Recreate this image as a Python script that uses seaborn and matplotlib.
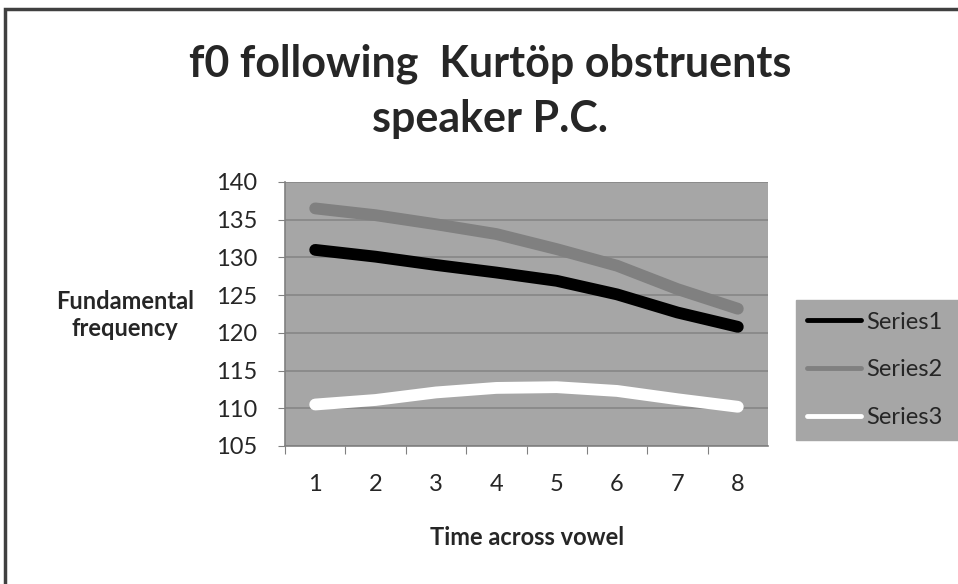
import seaborn as sns
import matplotlib.pyplot as plt
import pandas as pd
from matplotlib.patches import Rectangle

# values
time_points = [1, 2, 3, 4, 5, 6, 7, 8]
series1 = [131.0, 130.1, 129.0, 128.0, 126.9, 125.1, 122.7, 120.8]
series2 = [136.5, 135.6, 134.4, 133.1, 131.1, 128.9, 125.8, 123.2]
series3 = [110.5, 111.1, 112.1, 112.7, 112.8, 112.3, 111.2, 110.2]
series_names = ['Series1', 'Series2', 'Series3']
y_ticks = [105, 110, 115, 120, 125, 130, 135, 140]

df = pd.DataFrame({
    'time': time_points * 3,
    'f0': series1 + series2 + series3,
    'series': [n for n in series_names for _ in time_points],
})

sns.set_style('white')
plt.rcParams['font.family'] = ['Lato', 'DejaVu Sans']

fig = plt.figure(figsize=(9.58, 5.84), dpi=100)
W, H = 958, 584
ax = fig.add_axes([285 / W, 1 - 446 / H, (768 - 285) / W, (446 - 182) / H])
ax.set_facecolor('#a6a6a6')

sns.lineplot(data=df, x='time', y='f0', hue='series',
             palette=['#000000', '#808080', '#ffffff'],
             linewidth=8.5, solid_capstyle='round', ax=ax, zorder=3)

ax.set_xlim(0.5, 8.5)
ax.set_ylim(105, 140)
ax.set_yticks(y_ticks)
ax.grid(axis='y', color='#868686', linewidth=1.2, zorder=0)
ax.set_axisbelow(True)

# tick marks between categories, labels at category centres
ax.set_xticks([i + 0.5 for i in range(0, 8)])
ax.set_xticklabels([])
ax.set_xticks(time_points, minor=True)
ax.set_xticklabels([str(t) for t in time_points], minor=True, fontsize=17)
ax.tick_params(axis='x', which='major', direction='out', length=6, color='#808080', bottom=True)
ax.tick_params(axis='x', which='minor', length=0, pad=20)
ax.tick_params(axis='y', direction='out', length=5, color='#808080', left=True, labelsize=17, pad=15)

for s in ['top', 'right']:
    ax.spines[s].set_visible(False)
for s in ['left', 'bottom']:
    ax.spines[s].set_color('#808080')
    ax.spines[s].set_linewidth(1.2)

ax.set_xlabel('')
ax.set_ylabel('')

fig.text(125 / W, 1 - 315 / H, 'Fundamental\nfrequency', ha='center', va='center',
         fontsize=17, fontweight='bold', linespacing=1.2)
fig.text(527 / W, 1 - 526 / H, 'Time across vowel', ha='center', va='top',
         fontsize=17, fontweight='bold')
fig.text(490 / W, 1 - 76 / H, 'f0 following  Kurtöp obstruents', ha='center',
         va='baseline', fontsize=31, fontweight='bold')
fig.text(490 / W, 1 - 132 / H, 'speaker P.C.', ha='center',
         va='baseline', fontsize=31, fontweight='bold')

leg = ax.legend(loc='center left', bbox_to_anchor=(796 / W, 1 - 297 / H, 162 / W, -146 / H),
                bbox_transform=fig.transFigure, mode='expand', frameon=True, fontsize=17,
                handlelength=2.3, handletextpad=0.2, labelspacing=1.14, borderaxespad=0,
                borderpad=0.47, fancybox=False)
leg.get_frame().set_facecolor('#a6a6a6')
leg.get_frame().set_edgecolor('#a6a6a6')
leg.get_frame().set_alpha(1)
for line in leg.get_lines():
    line.set_linewidth(3.5)

# outer frame of the chart
fig.patches.append(Rectangle((5 / W, -0.01), 1.0, 1 - 9 / H + 0.01, transform=fig.transFigure,
                             fill=False, edgecolor='#404040', linewidth=2.5))

fig.savefig('out.png', dpi=100)
